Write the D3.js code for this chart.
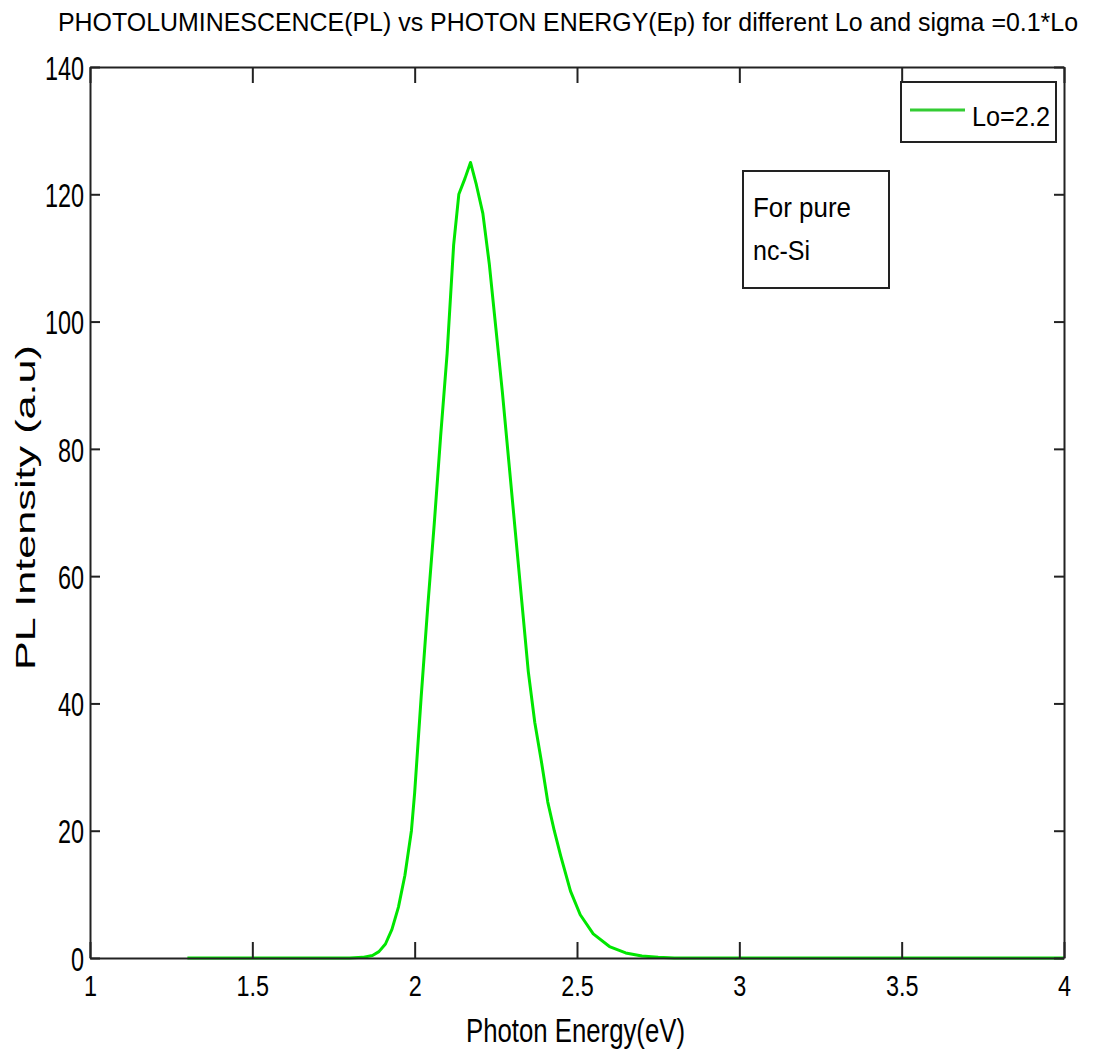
<!DOCTYPE html>
<html>
  <head>
    <meta charset='utf-8'>
    <style>
      body { margin: 0; background: #fff; }
      text { font-family: "Liberation Sans", Arial, sans-serif; fill: #000; }
    </style>
  </head>
  <body>
    <div id="chart"></div>
    <script src="https://cdn.jsdelivr.net/npm/d3@7/dist/d3.min.js"></script>
    <script type="text/javascript">

      // ---- data ----
      var energy = [1.3, 1.5, 1.7, 1.8, 1.84, 1.87, 1.89, 1.91, 1.93, 1.95, 1.97, 1.99, 2.00, 2.02, 2.04, 2.06, 2.08, 2.10, 2.12, 2.136, 2.155, 2.172,
                    2.19, 2.21, 2.23, 2.25, 2.27, 2.29, 2.31, 2.33, 2.35, 2.37, 2.39, 2.41, 2.43, 2.45, 2.48, 2.51, 2.55, 2.60, 2.65, 2.70, 2.75, 2.8, 3.0, 3.5, 4.0];
      var intensity = [0, 0, 0, 0, 0.1, 0.4, 1.0, 2.2, 4.5, 8, 13, 20, 26, 41, 55, 68, 82, 95, 112, 120, 122.5, 125,
                       121.5, 117, 109, 99, 89, 78, 67, 56, 45, 37, 31, 24.5, 20, 16, 10.5, 6.8, 3.8, 1.8, 0.8, 0.3, 0.1, 0, 0, 0, 0];
      var xTicks = [1, 1.5, 2, 2.5, 3, 3.5, 4];
      var yTicks = [0, 20, 40, 60, 80, 100, 120, 140];
      var seriesName = "Lo=2.2";
      var titleText = "PHOTOLUMINESCENCE(PL) vs PHOTON ENERGY(Ep) for different Lo and sigma =0.1*Lo";
      var noteLines = ["For pure", "nc-Si"];

      var W = 1099, H = 1051;
      var margin = {top: 67, right: 35, bottom: 93, left: 90};
      var width = W - margin.left - margin.right,
          height = H - margin.top - margin.bottom;
      var green = "#00e600";

      var x = d3.scaleLinear().domain([1, 4]).range([0, width]);
      var y = d3.scaleLinear().domain([0, 140]).range([height, 0]);

      var svg = d3.select("#chart").append("svg")
        .attr("width", W).attr("height", H);

      var g = svg.append("g")
        .attr("transform", "translate(" + margin.left + "," + margin.top + ")");

      // curve
      var pts = energy.map(function(e, i){ return {x: e, y: intensity[i]}; });
      g.append("path")
        .datum(pts)
        .attr("fill", "none")
        .attr("stroke", green)
        .attr("stroke-width", 3)
        .attr("stroke-linejoin", "round")
        .attr("d", d3.line().x(function(d){ return x(d.x); }).y(function(d){ return y(d.y); }));

      // axes (MATLAB style: ticks inward, box on)
      var xs = 0.78, ys = 0.69;
      var xAx = g.append("g").attr("transform", "translate(0," + height + ")")
        .call(d3.axisBottom(x).tickValues(xTicks).tickSize(-16).tickSizeOuter(0).tickPadding(17)
              .tickFormat(function(d){ return d; }));
      xAx.selectAll("text").attr("font-size", 30).attr("transform", "scale(" + xs + ",1)");

      var yAx = g.append("g")
        .call(d3.axisLeft(y).tickValues(yTicks).tickSize(-10).tickSizeOuter(0).tickPadding(6));
      yAx.selectAll("text").attr("font-size", 34).attr("x", -6 / ys).attr("dy", "0.36em")
        .attr("transform", "scale(" + ys + ",1)");

      g.append("g")
        .call(d3.axisTop(x).tickValues(xTicks).tickSize(-16).tickSizeOuter(0).tickFormat(""));
      g.append("g").attr("transform", "translate(" + width + ",0)")
        .call(d3.axisRight(y).tickValues(yTicks).tickSize(-10).tickSizeOuter(0).tickFormat(""));

      g.selectAll(".domain, .tick line").attr("stroke", "#222").attr("stroke-width", 2);
      g.selectAll(".tick text").attr("font-family", "Liberation Sans, Arial, sans-serif").attr("fill", "#000");

      // title + axis labels
      svg.append("text")
        .attr("x", 58).attr("y", 31)
        .attr("font-size", 25)
        .attr("textLength", 1020).attr("lengthAdjust", "spacingAndGlyphs")
        .text(titleText);

      svg.append("text")
        .attr("x", 466).attr("y", 1042)
        .attr("font-size", 34)
        .attr("textLength", 219).attr("lengthAdjust", "spacingAndGlyphs")
        .text("Photon Energy(eV)");

      svg.append("text")
        .attr("transform", "translate(35,670) rotate(-90)")
        .attr("font-size", 28)
        .attr("textLength", 325).attr("lengthAdjust", "spacingAndGlyphs")
        .text("PL Intensity (a.u)");

      // legend
      var leg = svg.append("g");
      leg.append("rect").attr("x", 901).attr("y", 82).attr("width", 155).attr("height", 60)
        .attr("fill", "#fff").attr("stroke", "#222").attr("stroke-width", 2);
      leg.append("line").attr("x1", 910).attr("x2", 965).attr("y1", 110).attr("y2", 110)
        .attr("stroke", "#33cc33").attr("stroke-width", 3);
      leg.append("text").attr("x", 972).attr("y", 126).attr("font-size", 27)
        .attr("textLength", 78).attr("lengthAdjust", "spacingAndGlyphs")
        .text(seriesName);

      // annotation box
      var note = svg.append("g");
      note.append("rect").attr("x", 743).attr("y", 171).attr("width", 146).attr("height", 117)
        .attr("fill", "#fff").attr("stroke", "#222").attr("stroke-width", 2);
      note.selectAll("text").data(noteLines).enter().append("text")
        .attr("x", 753)
        .attr("y", function(d, i){ return 217 + i * 43; })
        .attr("font-size", 28)
        .attr("textLength", function(d, i){ return i == 0 ? 98 : 57; })
        .attr("lengthAdjust", "spacingAndGlyphs")
        .text(function(d){ return d; });

    </script>
  </body>
</html>
